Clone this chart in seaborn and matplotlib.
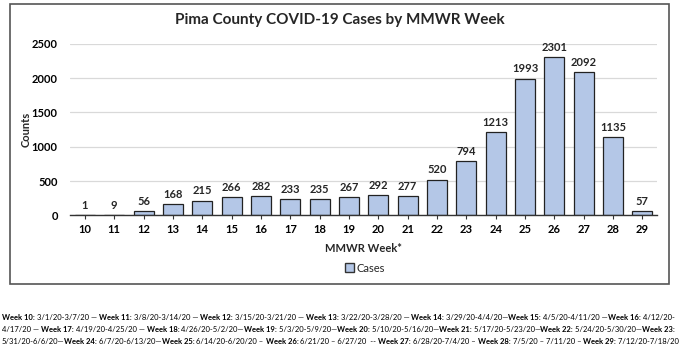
import matplotlib
matplotlib.use("Agg")
import matplotlib.pyplot as plt
import seaborn as sns
import numpy as np
import pandas as pd
from matplotlib.patches import Rectangle, Patch

weeks = ["10", "11", "12", "13", "14", "15", "16", "17", "18", "19",
         "20", "21", "22", "23", "24", "25", "26", "27", "28", "29"]
cases = [1, 9, 56, 168, 215, 266, 282, 233, 235, 267,
         292, 277, 520, 794, 1213, 1993, 2301, 2092, 1135, 57]
yticks = [0, 500, 1000, 1500, 2000, 2500]
title = "Pima County COVID-19 Cases by MMWR Week"
xlabel = "MMWR Week*"
ylabel = "Counts"
series_name = "Cases"

footnote_lines = [
    [("Week 10:", True), (" 3/1/20-3/7/20 \u2014 ", False), ("Week 11:", True), (" 3/8/20-3/14/20 \u2014 ", False),
     ("Week 12:", True), (" 3/15/20-3/21/20 \u2014 ", False), ("Week 13:", True), (" 3/22/20-3/28/20 \u2014 ", False),
     ("Week 14:", True), (" 3/29/20-4/4/20\u2014", False), ("Week 15:", True), (" 4/5/20-4/11/20 \u2014", False),
     ("Week 16:", True), (" 4/12/20-", False)],
    [("4/17/20 \u2014 ", False), ("Week 17:", True), (" 4/19/20-4/25/20 \u2014 ", False), ("Week 18:", True),
     (" 4/26/20-5/2/20\u2014", False), ("Week 19:", True), (" 5/3/20-5/9/20\u2014", False), ("Week 20:", True),
     (" 5/10/20-5/16/20\u2014", False), ("Week 21:", True), (" 5/17/20-5/23/20\u2014", False), ("Week 22:", True),
     (" 5/24/20-5/30/20\u2014", False), ("Week 23:", True)],
    [("5/31/20-6/6/20\u2014", False), ("Week 24:", True), (" 6/7/20-6/13/20\u2014", False), ("Week 25:", True),
     (" 6/14/20-6/20/20 \u2013 ", False), ("Week 26:", True), (" 6/21/20 \u2013 6/27/20  -- ", False),
     ("Week 27:", True), (" 6/28/20-7/4/20 \u2013 ", False), ("Week 28:", True), (" 7/5/20 \u2013 7/11/20 \u2013 ", False),
     ("Week 29:", True), (" 7/12/20-7/18/20", False)],
]

sns.set_theme(style="white")
plt.rcParams['font.family'] = ['Lato', 'DejaVu Sans']

W, H = 680, 352
fig = plt.figure(figsize=(W / 100, H / 100), dpi=100)

# chart frame
fig.patches.append(Rectangle((10 / W, 1 - 284 / H), 659 / W, 280 / H, transform=fig.transFigure,
                             fill=False, edgecolor="#555555", linewidth=1.2))

ax = fig.add_axes([70.3 / W, 1 - 215.3 / H, (657 - 70.3) / W, (215.3 - 43.8) / H])
df = pd.DataFrame({"week": weeks, "cases": cases})
sns.barplot(data=df, x="week", y="cases", color="#B4C7E7", saturation=1, edgecolor="#222222",
            linewidth=0.9, width=0.68, ax=ax)
ax.set_ylim(0, 2500)
ax.set_xlim(-0.5, len(weeks) - 0.5)
ax.set_yticks(yticks)
ax.yaxis.grid(True, color="#d9d9d9", linewidth=0.9)
ax.set_axisbelow(True)
for s in ["top", "right", "left"]:
    ax.spines[s].set_visible(False)
ax.spines["bottom"].set_color("#333333")
ax.spines["bottom"].set_linewidth(1.0)
ax.tick_params(axis="y", length=0, pad=9, labelsize=8, labelcolor="black")
ax.tick_params(axis="x", length=3, width=0.8, color="#333333", direction="out", pad=3,
               labelsize=8, labelcolor="black", bottom=True)
for lbl in ax.get_xticklabels() + ax.get_yticklabels():
    lbl.set_fontweight("bold")
ax.set_xlabel(xlabel, fontsize=8, fontweight="bold", labelpad=6)
ax.set_ylabel(ylabel, fontsize=8, fontweight="bold", labelpad=0)
for c in ax.containers:
    ax.bar_label(c, labels=[str(v) for v in cases], padding=3, fontsize=8, fontweight="bold")

fig.text(0.5, 1 - 20 / H, title, ha="center", va="center", fontsize=11, fontweight="bold")

leg = fig.legend(handles=[Patch(facecolor="#B4C7E7", edgecolor="#333333", label=series_name)],
                 loc="center", bbox_to_anchor=(365 / W, 1 - 268 / H), frameon=False,
                 fontsize=8, handlelength=0.8, handleheight=0.8, handletextpad=0.3)

# footnote with mixed weights
renderer = fig.canvas.get_renderer()
fs = 5.5
ys = [318, 330, 342]
for line, yy in zip(footnote_lines, ys):
    x = 2.0
    for txt, bold in line:
        t = fig.text(x / W, 1 - yy / H, txt, ha="left", va="center", fontsize=fs,
                     fontweight="bold" if bold else "normal", color="black")
        bb = t.get_window_extent(renderer=renderer)
        x += bb.width

fig.savefig("out.png", dpi=100)
